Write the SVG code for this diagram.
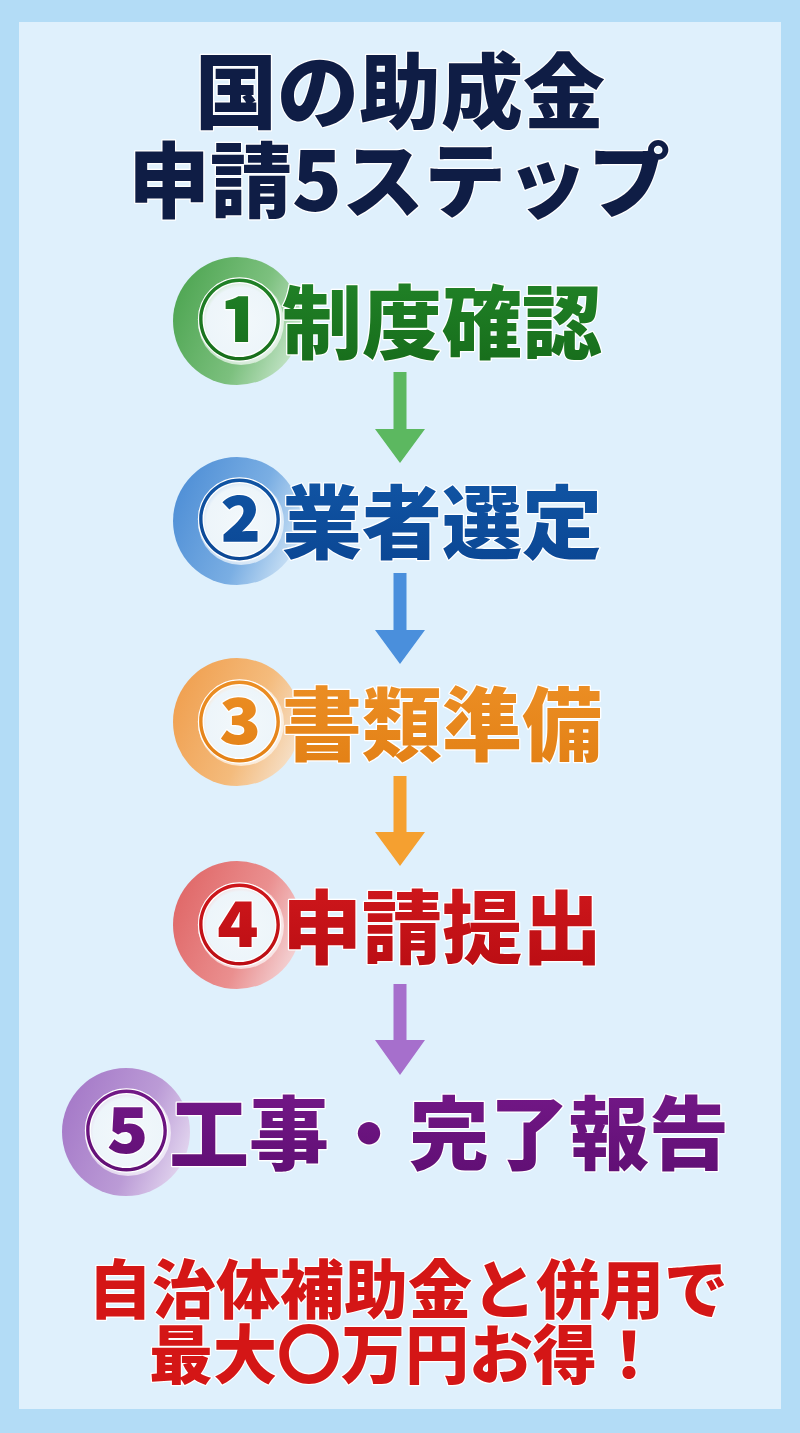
<svg xmlns="http://www.w3.org/2000/svg" width="800" height="1433" viewBox="0 0 800 1433">
<defs>
<style>
.jp{font-family:"Noto Sans CJK JP","Noto Sans CJK SC",sans-serif;font-weight:900;paint-order:stroke;stroke:#ffffff;stroke-width:2.5;stroke-linejoin:round}
.title{font-size:82px;fill:#0f1d45;text-anchor:middle}
.step{font-size:80px}
.num{font-size:85px}
.bottom{font-size:64px;fill:#d41616;text-anchor:middle}
.hole{fill:url(#hole)}
</style>
<linearGradient id="gG" x1="0" y1="0.3" x2="1" y2="0.7"><stop offset="0" stop-color="#4fa653"/><stop offset="0.6" stop-color="#7cc07e"/><stop offset="1" stop-color="#c8e6cc"/></linearGradient>
<linearGradient id="gB" x1="0" y1="0.3" x2="1" y2="0.7"><stop offset="0" stop-color="#4f8fd6"/><stop offset="0.6" stop-color="#7aaee3"/><stop offset="1" stop-color="#cfe4f6"/></linearGradient>
<linearGradient id="gO" x1="0" y1="0.3" x2="1" y2="0.7"><stop offset="0" stop-color="#f0a050"/><stop offset="0.6" stop-color="#f4bb7c"/><stop offset="1" stop-color="#f6e2cc"/></linearGradient>
<linearGradient id="gR" x1="0" y1="0.3" x2="1" y2="0.7"><stop offset="0" stop-color="#e06868"/><stop offset="0.6" stop-color="#ea8f8f"/><stop offset="1" stop-color="#f4d6d8"/></linearGradient>
<linearGradient id="gP" x1="0" y1="0.3" x2="1" y2="0.7"><stop offset="0" stop-color="#a579c8"/><stop offset="0.6" stop-color="#bb9bd6"/><stop offset="1" stop-color="#e4d8f0"/></linearGradient>
<radialGradient id="hole"><stop offset="0" stop-color="#f2f8fb"/><stop offset="0.8" stop-color="#edf5fa"/><stop offset="1" stop-color="#ffffff" stop-opacity="0.6"/></radialGradient>
<linearGradient id="tG" x1="0" y1="0" x2="0" y2="1"><stop offset="0" stop-color="#23872a"/><stop offset="1" stop-color="#166b1a"/></linearGradient>
<linearGradient id="tB" x1="0" y1="0" x2="0" y2="1"><stop offset="0" stop-color="#1258a8"/><stop offset="1" stop-color="#0a4592"/></linearGradient>
<linearGradient id="tO" x1="0" y1="0" x2="0" y2="1"><stop offset="0" stop-color="#ee9228"/><stop offset="1" stop-color="#e27f14"/></linearGradient>
<linearGradient id="tR" x1="0" y1="0" x2="0" y2="1"><stop offset="0" stop-color="#d41a1e"/><stop offset="1" stop-color="#b80c12"/></linearGradient>
<linearGradient id="tP" x1="0" y1="0" x2="0" y2="1"><stop offset="0" stop-color="#781a8c"/><stop offset="1" stop-color="#5e0e72"/></linearGradient>
</defs>
<rect x="0" y="0" width="800" height="1433" fill="#b3dcf6"/>
<rect x="19" y="22" width="762" height="1387" fill="#dff0fc"/>

<g id="title">
<text class="jp title" x="400" y="122">国の助成金</text>
<text class="jp title" x="399" y="211">申請5ステップ</text>
</g>

<g id="connectors">
<path d="M393.5 372 H406.5 V429 H425 L400 463 L375 429 H393.5 Z" fill="#5cb860"/>
<path d="M393.5 573 H406.5 V630 H425 L400 664 L375 630 H393.5 Z" fill="#4a8fdc"/>
<path d="M393.5 776 H406.5 V832 H425 L400 866 L375 832 H393.5 Z" fill="#f5a030"/>
<path d="M393.5 984 H406.5 V1040 H425 L400 1075 L375 1040 H393.5 Z" fill="#a66fcc"/>
</g>

<g id="step1">
<circle cx="237" cy="321" r="64" fill="url(#gG)"/>
<circle cx="241" cy="322" r="43" class="hole"/>
<text class="jp step" x="197" y="352" fill="url(#tG)"><tspan class="num">①</tspan>制度確認</text>
</g>

<g id="step2">
<circle cx="237" cy="521" r="64" fill="url(#gB)"/>
<circle cx="241" cy="522" r="43" class="hole"/>
<text class="jp step" x="197" y="552" fill="url(#tB)"><tspan class="num">②</tspan>業者選定</text>
</g>

<g id="step3">
<circle cx="237" cy="722" r="64" fill="url(#gO)"/>
<circle cx="241" cy="723" r="43" class="hole"/>
<text class="jp step" x="197" y="754" fill="url(#tO)"><tspan class="num">③</tspan>書類準備</text>
</g>

<g id="step4">
<circle cx="237" cy="925" r="64" fill="url(#gR)"/>
<circle cx="241" cy="926" r="43" class="hole"/>
<text class="jp step" x="197" y="957" fill="url(#tR)"><tspan class="num">④</tspan>申請提出</text>
</g>

<g id="step5">
<circle cx="126" cy="1132" r="64" fill="url(#gP)"/>
<circle cx="128" cy="1133" r="43" class="hole"/>
<text class="jp step" x="84" y="1163" fill="url(#tP)"><tspan class="num">⑤</tspan>工事・完了報告</text>
</g>

<g id="note">
<text class="jp bottom" x="408" y="1313">自治体補助金と併用で</text>
<text class="jp bottom" x="405" y="1378">最大〇万円お得！</text>
</g>
</svg>
